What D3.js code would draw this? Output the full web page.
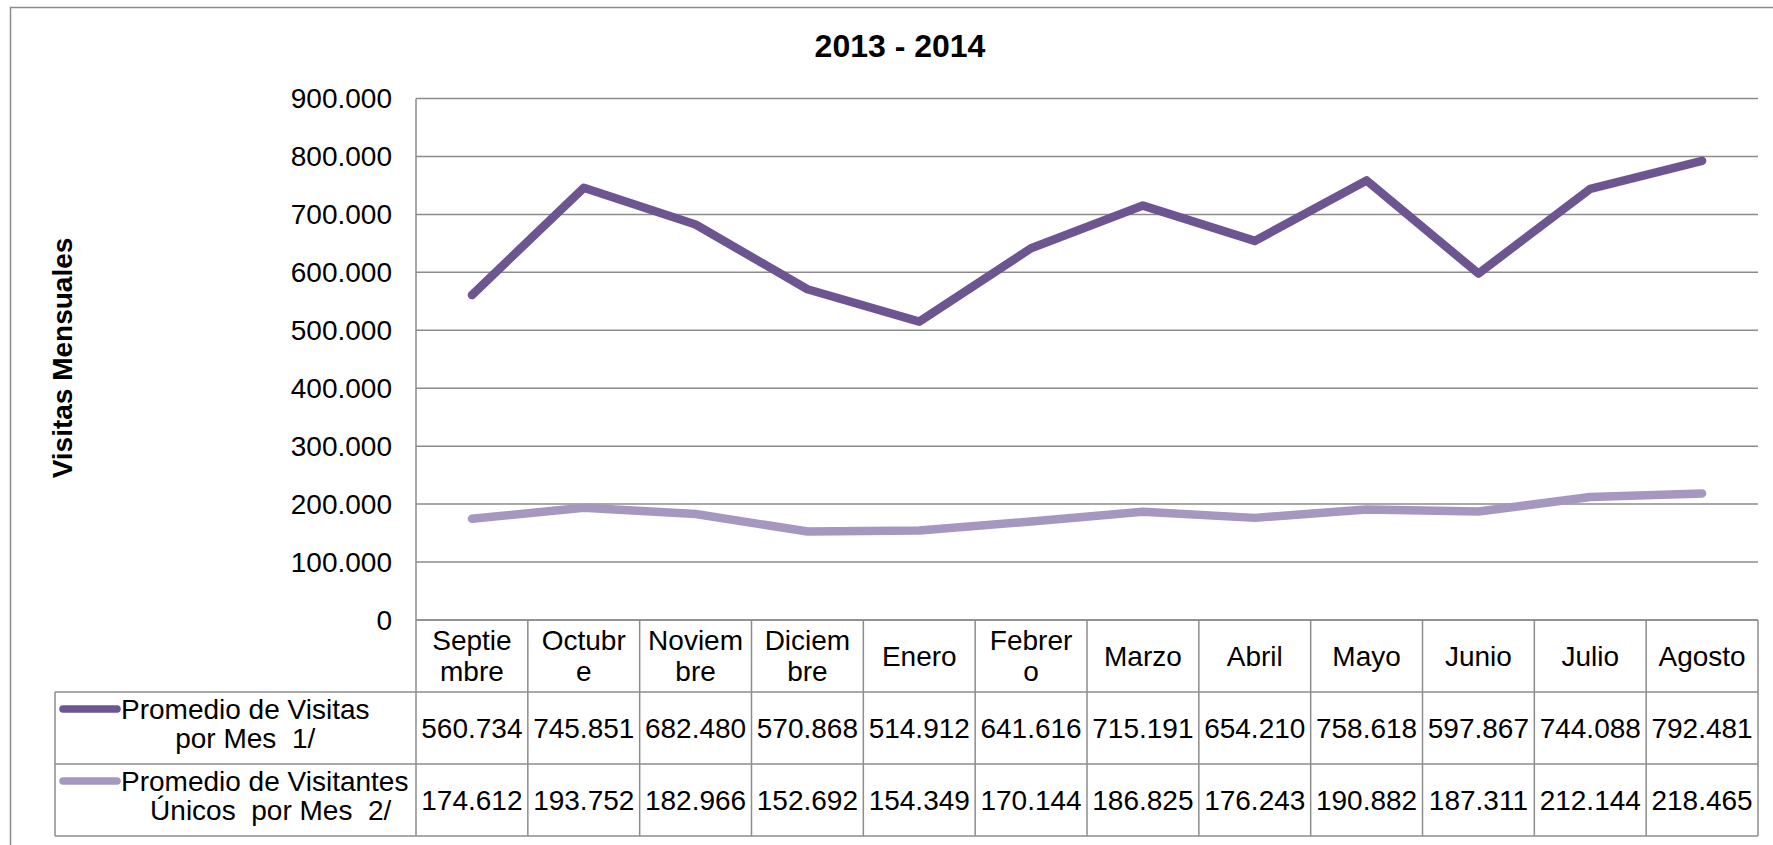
<!DOCTYPE html>
<html>
<head>
<meta charset="utf-8">
<script src="https://cdn.jsdelivr.net/npm/d3@7"></script>
<style>
  body { margin: 0; background: #fff; }
  svg { display: block; font-family: "Liberation Sans", Arial, sans-serif; }
  text { white-space: pre; }
</style>
</head>
<body>
<svg id="chart" width="1773" height="845"></svg>
<script>
// data
var meses = ["Septiembre", "Octubre", "Noviembre", "Diciembre", "Enero", "Febrero",
             "Marzo", "Abril", "Mayo", "Junio", "Julio", "Agosto"];
var mesEtiquetas = [["Septie", "mbre"], ["Octubr", "e"], ["Noviem", "bre"], ["Diciem", "bre"],
                    ["Enero"], ["Febrer", "o"], ["Marzo"], ["Abril"], ["Mayo"], ["Junio"],
                    ["Julio"], ["Agosto"]];
var visitas = [560734, 745851, 682480, 570868, 514912, 641616, 715191, 654210, 758618, 597867, 744088, 792481];
var visitantes = [174612, 193752, 182966, 152692, 154349, 170144, 186825, 176243, 190882, 187311, 212144, 218465];
var serieNombres = [["Promedio de Visitas", "por Mes  1/"], ["Promedio de Visitantes", "Únicos  por Mes  2/"]];
var yTicks = [0, 100000, 200000, 300000, 400000, 500000, 600000, 700000, 800000, 900000];
var titulo = "2013 - 2014";
var yTitulo = "Visitas Mensuales";

var colores = ["#6c5590", "#a697c0"];
var gris = "#8c8c8c";

var svg = d3.select("#chart");

var plot = {left: 416, right: 1758, top: 98.5, bottom: 620};
var rowH = 72;
var legendLeft = 55;

var loc = d3.formatLocale({decimal: ",", thousands: ".", grouping: [3], currency: ["", ""]});
var fmt = loc.format(",");

const x = d3.scaleBand().domain(meses).range([plot.left, plot.right]);
const y = d3.scaleLinear().domain([0, 900000]).range([plot.bottom, plot.top]);

// outer frame
svg.append("rect")
    .attr("x", 10.5).attr("y", 7.5)
    .attr("width", 1800).attr("height", 900)
    .attr("fill", "none").attr("stroke", gris).attr("stroke-width", 1.5);

// title
svg.append("text")
    .attr("x", 900).attr("y", 57)
    .attr("text-anchor", "middle")
    .attr("font-size", 32).attr("font-weight", "bold")
    .text(titulo);

// y axis title
svg.append("text")
    .attr("transform", "translate(72,358) rotate(-90)")
    .attr("text-anchor", "middle")
    .attr("font-size", 28).attr("font-weight", "bold")
    .text(yTitulo);

// gridlines
svg.append("g").selectAll("line")
    .data(yTicks)
    .join("line")
    .attr("x1", plot.left).attr("x2", plot.right)
    .attr("y1", d => y(d)).attr("y2", d => y(d))
    .attr("stroke", gris).attr("stroke-width", 1.5);

// tick labels
svg.append("g").selectAll("text")
    .data(yTicks)
    .join("text")
    .attr("x", 392)
    .attr("y", d => y(d))
    .attr("dy", "0.35em")
    .attr("text-anchor", "end")
    .attr("font-size", 28)
    .text(d => fmt(d));

// y axis line (runs down through the table)
svg.append("line")
    .attr("x1", plot.left).attr("x2", plot.left)
    .attr("y1", plot.top).attr("y2", plot.bottom + 3 * rowH)
    .attr("stroke", gris).attr("stroke-width", 1.5);

// lines
const linea = d3.line()
    .x((d, i) => x(meses[i]) + x.bandwidth() / 2)
    .y(d => y(d));

[visitas, visitantes].forEach(function(serie, k) {
    svg.append("path")
        .attr("d", linea(serie))
        .attr("fill", "none")
        .attr("stroke", colores[k])
        .attr("stroke-width", 8.5)
        .attr("stroke-linejoin", "round")
        .attr("stroke-linecap", "round");
});

// data table
var tabla = svg.append("g");

// horizontal rules
var ruleY = [0, 1, 2, 3].map(i => plot.bottom + i * rowH);
tabla.selectAll(".hr")
    .data(ruleY)
    .join("line")
    .attr("x1", (d, i) => i == 0 ? plot.left : legendLeft)
    .attr("x2", plot.right)
    .attr("y1", d => d).attr("y2", d => d)
    .attr("stroke", gris).attr("stroke-width", 1.5);

// vertical rules
tabla.selectAll(".vr")
    .data(meses)
    .join("line")
    .attr("x1", d => x(d) + x.bandwidth()).attr("x2", d => x(d) + x.bandwidth())
    .attr("y1", plot.bottom).attr("y2", plot.bottom + 3 * rowH)
    .attr("stroke", gris).attr("stroke-width", 1.5);

tabla.append("line")
    .attr("x1", legendLeft).attr("x2", legendLeft)
    .attr("y1", plot.bottom + rowH).attr("y2", plot.bottom + 3 * rowH)
    .attr("stroke", gris).attr("stroke-width", 1.5);

// month headers
meses.forEach(function(m, i) {
    var lines = mesEtiquetas[i];
    var cx = x(m) + x.bandwidth() / 2;
    var t = tabla.append("text")
        .attr("text-anchor", "middle")
        .attr("font-size", 28);
    if (lines.length == 1) {
        t.attr("x", cx).attr("y", plot.bottom + rowH / 2).attr("dy", "0.35em").text(lines[0]);
    } else {
        t.append("tspan").attr("x", cx).attr("y", plot.bottom + 30).text(lines[0]);
        t.append("tspan").attr("x", cx).attr("y", plot.bottom + 61).text(lines[1]);
    }
});

// series rows
[visitas, visitantes].forEach(function(serie, k) {
    var rowTop = plot.bottom + (k + 1) * rowH;

    tabla.append("line")
        .attr("x1", 63).attr("x2", 117)
        .attr("y1", rowTop + 17).attr("y2", rowTop + 17)
        .attr("stroke", colores[k]).attr("stroke-width", 7.5)
        .attr("stroke-linecap", "round");

    var l1 = tabla.append("text")
        .attr("x", 121).attr("y", rowTop + 27)
        .attr("font-size", 28)
        .text(serieNombres[k][0]);
    var w = l1.node().getComputedTextLength();
    tabla.append("text")
        .attr("x", 121 + w / 2 + (k ? 6 : 0)).attr("y", rowTop + 56)
        .attr("text-anchor", "middle")
        .attr("font-size", 28)
        .text(serieNombres[k][1]);

    tabla.append("g").selectAll("text")
        .data(serie)
        .join("text")
        .attr("x", (d, i) => x(meses[i]) + x.bandwidth() / 2)
        .attr("y", rowTop + rowH / 2)
        .attr("dy", "0.35em")
        .attr("text-anchor", "middle")
        .attr("font-size", 28)
        .text(d => fmt(d));
});
</script>
</body>
</html>
